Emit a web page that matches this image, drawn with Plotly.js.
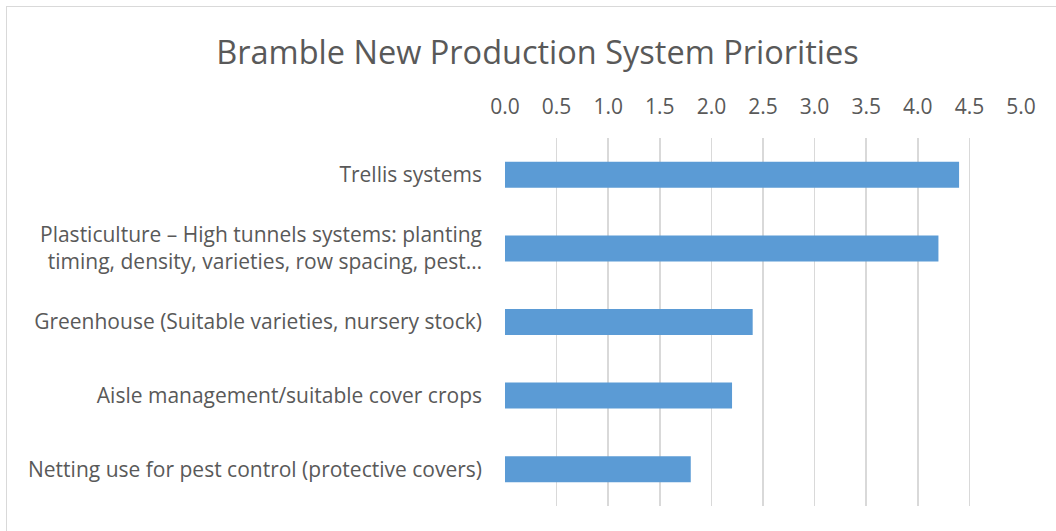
<!DOCTYPE html>
<html>
<head>
<meta charset="utf-8">
<script src="https://cdn.plot.ly/plotly-3.0.1.min.js"></script>
<style>
html,body{margin:0;padding:0;background:#fff;overflow:hidden;}
#wrap{position:relative;width:1056px;height:531px;}
#chart{position:absolute;left:0;top:0;width:1056px;height:531px;}
#frame{position:absolute;left:6px;top:6px;width:1100px;height:600px;border:1px solid #d9d9d9;pointer-events:none;}
</style>
</head>
<body>
<div id="wrap"><div id="chart"></div><div id="frame"></div></div>
<script>
const categories = [
  "Trellis systems",
  "Plasticulture – High tunnels systems: planting<br>timing, density, varieties, row spacing, pest…",
  "Greenhouse (Suitable varieties, nursery stock)",
  "Aisle management/suitable cover crops",
  "Netting use for pest control (protective covers)"
];
const values = [4.4, 4.2, 2.4, 2.2, 1.8];
const xTickValues = [0, 0.5, 1, 1.5, 2, 2.5, 3, 3.5, 4, 4.5, 5];

const fontFam = '"Open Sans", "Noto Sans", sans-serif';
const trace = {
  type: 'bar',
  orientation: 'h',
  x: values,
  y: categories,
  marker: {color: '#5b9bd5'},
  hoverinfo: 'x+y'
};
const layout = {
  width: 1056, height: 531,
  paper_bgcolor: '#ffffff', plot_bgcolor: '#ffffff',
  margin: {l: 505, r: 35, t: 138, b: 25, pad: 0},
  title: {text: 'Bramble New Production System Priorities', font: {family: fontFam, size: 32.5, color: '#595959'}, x: 0.509, xanchor: 'center', y: 0.9, yanchor: 'middle'},
  bargap: 0.647,
  showlegend: false,
  font: {family: fontFam, color: '#595959', size: 21},
  xaxis: {
    side: 'top', range: [0, 5], tickvals: xTickValues, tickformat: '.1f',
    showgrid: true, gridcolor: '#d9d9d9', gridwidth: 1.6,
    zeroline: false, showline: false, ticks: '', ticklabelstandoff: 19,
    tickfont: {family: fontFam, size: 21, color: '#595959'}, automargin: false, fixedrange: true
  },
  yaxis: {
    autorange: 'reversed', showgrid: false, zeroline: false, showline: false,
    ticks: '', ticklabelstandoff: 22,
    tickfont: {family: fontFam, size: 21, color: '#595959'}, automargin: false, fixedrange: true
  }
};
Plotly.newPlot('chart', [trace], layout, {displayModeBar: false, staticPlot: true});
</script>
</body>
</html>
